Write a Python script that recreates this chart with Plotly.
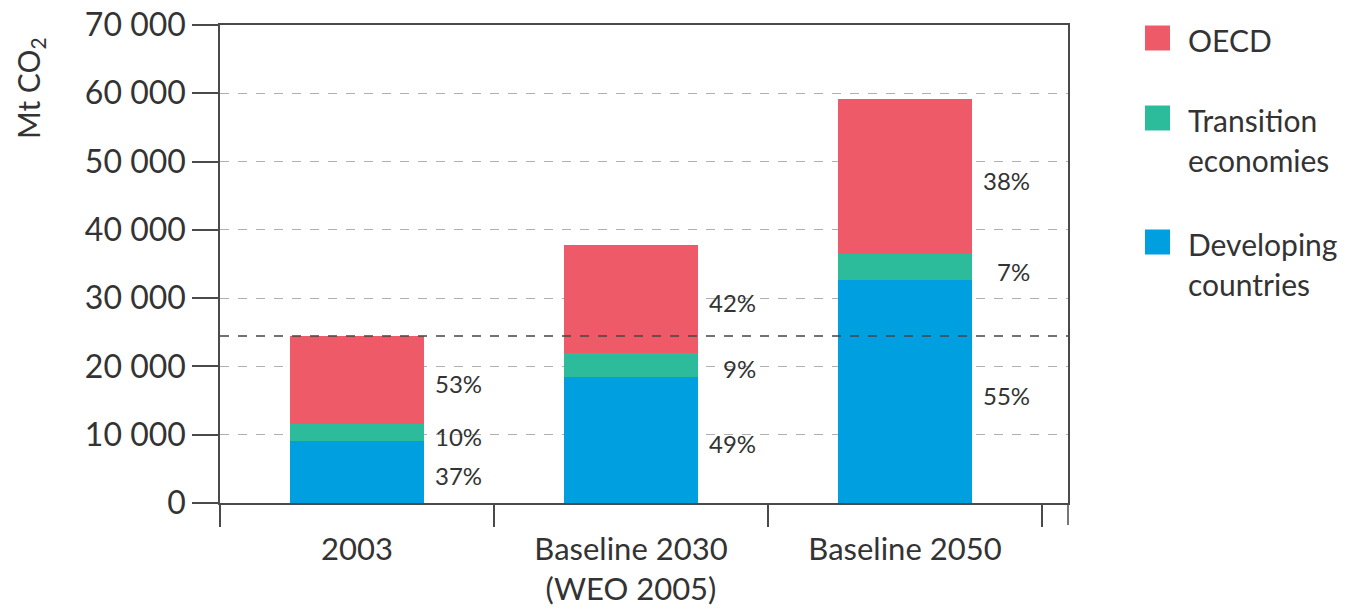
import plotly.graph_objects as go

# ---- data ----
categories = ["2003", "Baseline 2030<br>(WEO 2005)", "Baseline 2050"]
developing = [9100, 18500, 32600]
transition = [2500, 3500, 3900]
oecd = [12850, 15800, 22650]
pct_developing = ["37%", "49%", "55%"]
pct_transition = ["10%", "9%", "7%"]
pct_oecd = ["53%", "42%", "38%"]
series_names = ["OECD", "Transition economies", "Developing countries"]
legend_lines = [["OECD"], ["Transition", "economies"], ["Developing", "countries"]]
y_ticks = [0, 10000, 20000, 30000, 40000, 50000, 60000, 70000]
y_ticklabels = ["0", "10 000", "20 000", "30 000", "40 000", "50 000", "60 000", "70 000"]
reference_level = developing[0] + transition[0] + oecd[0]

# ---- style ----
C_OECD = "#EF5A68"
C_TRANS = "#2CBC9B"
C_DEV = "#009FE0"
TXT = "#333333"
AX = "#4a4a4a"
FONT = "Lato"

L, R, T, B = 220, 290, 25, 107
W, H = 1358, 610
PW, PH = W - L - R, H - T - B

def px_x(p):
    return (p - L) / PW

def px_y(p):
    return (H - B - p) / PH

fig = go.Figure()
for vals, name, col in [(developing, series_names[2], C_DEV),
                        (transition, series_names[1], C_TRANS),
                        (oecd, series_names[0], C_OECD)]:
    fig.add_trace(go.Bar(x=categories, y=vals, name=name, marker=dict(color=col, line=dict(width=0)),
                         width=0.49, showlegend=False))

annotations = []
for i, cat in enumerate(categories):
    segs = [(0, developing[i], pct_developing[i]),
            (developing[i], developing[i] + transition[i], pct_transition[i]),
            (developing[i] + transition[i], developing[i] + transition[i] + oecd[i], pct_oecd[i])]
    for lo, hi, txt in segs:
        annotations.append(dict(x=i + 0.465, y=(lo + hi) / 2, xref="x", yref="y", text=txt,
                                showarrow=False, xanchor="right", yanchor="middle", yshift=-4,
                                font=dict(family=FONT, size=24, color=TXT)))

# y-axis title
annotations.append(dict(x=px_x(30), y=px_y(88), xref="paper", yref="paper",
                        text="Mt CO<sub>2</sub>", textangle=-90, showarrow=False,
                        xanchor="center", yanchor="middle",
                        font=dict(family=FONT, size=30, color=TXT)))

# manual legend
shapes = []
leg_cols = [C_OECD, C_TRANS, C_DEV]
leg_sq_centers = [38, 118, 242]
for lines, col, cy in zip(legend_lines, leg_cols, leg_sq_centers):
    shapes.append(dict(type="rect", xref="paper", yref="paper",
                       x0=px_x(1145), x1=px_x(1170), y0=px_y(cy + 12.5), y1=px_y(cy - 12.5),
                       fillcolor=col, line=dict(width=0)))
    for k, ln in enumerate(lines):
        annotations.append(dict(x=px_x(1186), y=px_y(cy + 2 + 40 * k), xref="paper", yref="paper",
                                text=ln, showarrow=False, xanchor="left", yanchor="middle",
                                font=dict(family=FONT, size=30, color=TXT)))

# reference dashed line at 2003 total
shapes.append(dict(type="line", xref="paper", yref="y", x0=0, x1=1,
                   y0=reference_level, y1=reference_level,
                   line=dict(color="#444444", width=1.5, dash="dash"), layer="above"))
# right border extension below axis
shapes.append(dict(type="line", xref="paper", yref="paper", x0=1, x1=1,
                   y0=0, y1=px_y(525), line=dict(color=AX, width=1.5)))

fig.update_layout(
    barmode="stack",
    width=W, height=H,
    margin=dict(l=L, r=R, t=T, b=B, autoexpand=False),
    plot_bgcolor="white", paper_bgcolor="white",
    font=dict(family=FONT, color=TXT),
    annotations=annotations,
    shapes=shapes,
    bargap=0.51,
)
fig.update_xaxes(type="category", range=[-0.5, 2.595], tickson="boundaries",
                 ticks="outside", ticklen=22, tickwidth=1.5, tickcolor=AX,
                 showline=True, linecolor=AX, linewidth=1.5, mirror=True, automargin=False,
                 ticklabelstandoff=18,
                 showgrid=False, tickfont=dict(family=FONT, size=31, color=TXT))
fig.update_yaxes(range=[0, 70000], tickvals=y_ticks, ticktext=y_ticklabels,
                 ticks="outside", ticklen=26, tickwidth=1.5, tickcolor=AX,
                 showline=True, linecolor=AX, linewidth=1.5, mirror=True, automargin=False,
                 showgrid=True, gridcolor="#b0b0b0", gridwidth=1, griddash="dash",
                 zeroline=False, tickfont=dict(family=FONT, size=32, color=TXT))

fig.write_html("out.html")
